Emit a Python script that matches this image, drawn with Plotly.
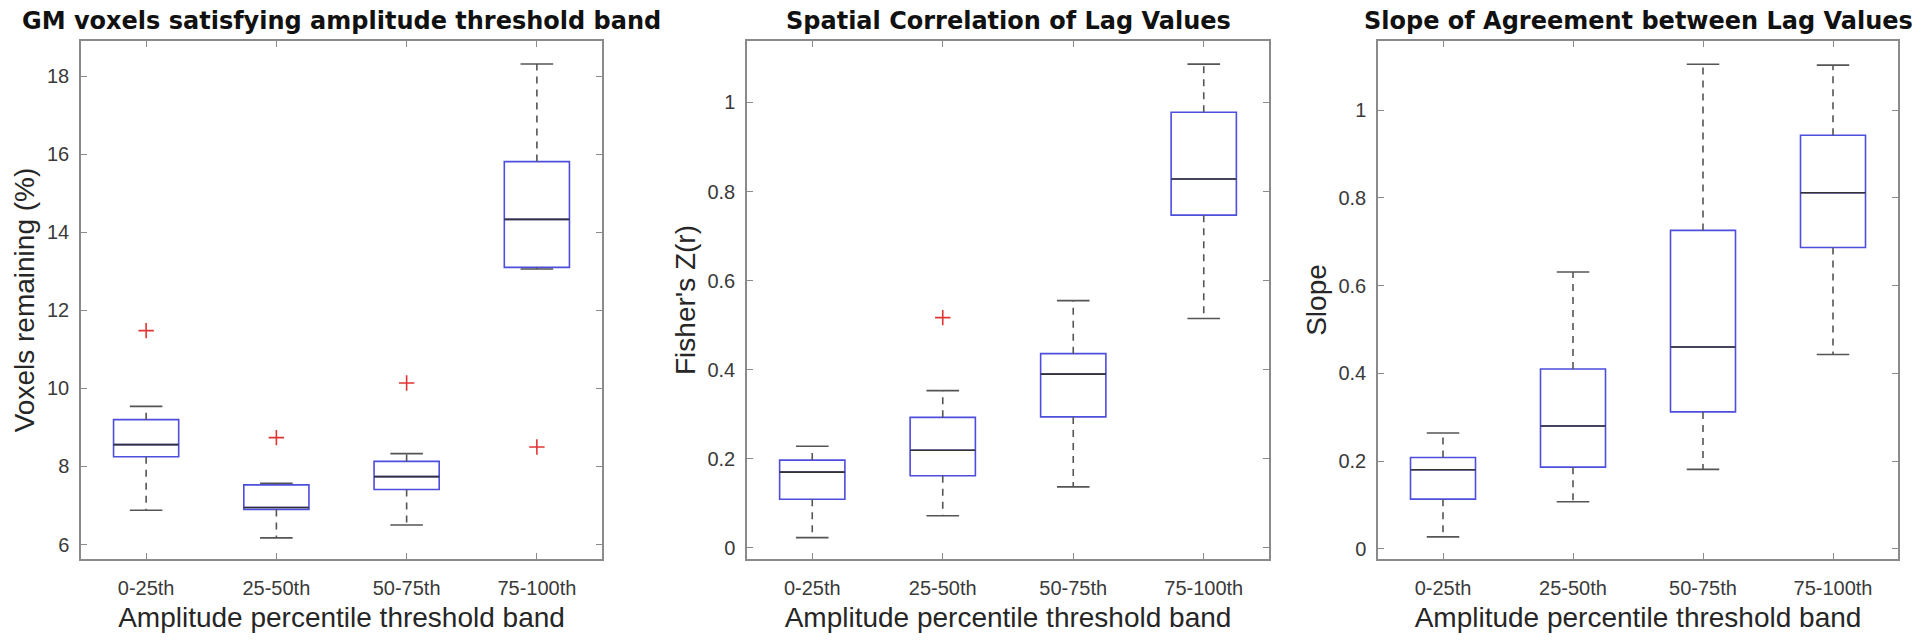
import plotly.graph_objects as go

categories = ["0-25th", "25-50th", "50-75th", "75-100th"]

# Panel 1: GM voxels satisfying amplitude threshold band (%)
p1_lower = [6.88, 6.17, 6.50, 13.06]
p1_q1 = [8.25, 6.90, 7.41, 13.10]
p1_median = [8.56, 6.95, 7.74, 14.33]
p1_q3 = [9.20, 7.53, 8.13, 15.81]
p1_upper = [9.54, 7.57, 8.33, 18.31]
p1_out_cat = [1, 2, 3, 4]
p1_out_val = [11.48, 8.74, 10.14, 8.50]

# Panel 2: Spatial correlation of lag values (Fisher's Z)
p2_lower = [0.023, 0.072, 0.137, 0.515]
p2_q1 = [0.109, 0.162, 0.294, 0.747]
p2_median = [0.170, 0.219, 0.390, 0.828]
p2_q3 = [0.197, 0.293, 0.436, 0.978]
p2_upper = [0.228, 0.353, 0.555, 1.086]
p2_out_cat = [2]
p2_out_val = [0.517]

# Panel 3: Slope of agreement between lag values
p3_lower = [0.027, 0.107, 0.181, 0.443]
p3_q1 = [0.113, 0.186, 0.312, 0.687]
p3_median = [0.180, 0.280, 0.460, 0.812]
p3_q3 = [0.208, 0.410, 0.726, 0.943]
p3_upper = [0.264, 0.631, 1.105, 1.103]
p3_out_cat = []
p3_out_val = []

titles = ["GM voxels satisfying amplitude threshold band",
          "Spatial Correlation of Lag Values",
          "Slope of Agreement between Lag Values"]
ylabels = ["Voxels remaining (%)", "Fisher's Z(r)", "Slope"]
xlabel = "Amplitude percentile threshold band"

y_ranges = [[5.63, 18.9], [-0.025, 1.138], [-0.0235, 1.158]]
y_ticks = [[6, 8, 10, 12, 14, 16, 18], [0, 0.2, 0.4, 0.6, 0.8, 1], [0, 0.2, 0.4, 0.6, 0.8, 1]]
y_ticktext = [["6", "8", "10", "12", "14", "16", "18"],
              ["0", "0.2", "0.4", "0.6", "0.8", "1"],
              ["0", "0.2", "0.4", "0.6", "0.8", "1"]]

panels = [
    (p1_lower, p1_q1, p1_median, p1_q3, p1_upper, p1_out_cat, p1_out_val),
    (p2_lower, p2_q1, p2_median, p2_q3, p2_upper, p2_out_cat, p2_out_val),
    (p3_lower, p3_q1, p3_median, p3_q3, p3_upper, p3_out_cat, p3_out_val),
]

W, H = 1920, 641
x_domains = [[81 / W, 602 / W], [747 / W, 1269 / W], [1378 / W, 1898 / W]]
y_domain = [1 - 559 / H, 1 - 41 / H]

BOX_BLUE = "#4d4dde"
MED_COL = "#333333"
WHISK_COL = "#555555"
OUT_COL = "#e03535"
AXIS_COL = "#8a8a8a"
TICK_COL = "#3a3a3a"

BOX_W = 0.5
CAP_W = 0.25

fig = go.Figure()
positions = list(range(1, len(categories) + 1))

for k, (lo, q1, med, q3, up, oc, ov) in enumerate(panels):
    xa = "x" if k == 0 else f"x{k + 1}"
    ya = "y" if k == 0 else f"y{k + 1}"
    # whiskers (dashed)
    wx, wy = [], []
    for i, p in enumerate(positions):
        wx += [p, p, None, p, p, None]
        wy += [q3[i], up[i], None, q1[i], lo[i], None]
    fig.add_trace(go.Scatter(x=wx, y=wy, mode="lines", xaxis=xa, yaxis=ya,
                             line=dict(color=WHISK_COL, width=1.6, dash="7px,6px"),
                             showlegend=False, hoverinfo="skip"))
    # caps
    cx, cy = [], []
    for i, p in enumerate(positions):
        cx += [p - CAP_W / 2, p + CAP_W / 2, None, p - CAP_W / 2, p + CAP_W / 2, None]
        cy += [up[i], up[i], None, lo[i], lo[i], None]
    fig.add_trace(go.Scatter(x=cx, y=cy, mode="lines", xaxis=xa, yaxis=ya,
                             line=dict(color=WHISK_COL, width=1.6),
                             showlegend=False, hoverinfo="skip"))
    # boxes
    fig.add_trace(go.Box(x=positions, q1=q1, median=med, q3=q3,
                         lowerfence=q1, upperfence=q3, width=BOX_W,
                         xaxis=xa, yaxis=ya, boxpoints=False, whiskerwidth=0,
                         line=dict(color=BOX_BLUE, width=1.6),
                         fillcolor="rgba(0,0,0,0)", showlegend=False))
    # medians
    mx, my = [], []
    for i, p in enumerate(positions):
        mx += [p - BOX_W / 2, p + BOX_W / 2, None]
        my += [med[i], med[i], None]
    fig.add_trace(go.Scatter(x=mx, y=my, mode="lines", xaxis=xa, yaxis=ya,
                             line=dict(color=MED_COL, width=1.6),
                             showlegend=False, hoverinfo="skip"))
    # outliers
    if oc:
        fig.add_trace(go.Scatter(x=oc, y=ov, mode="markers", xaxis=xa, yaxis=ya,
                                 marker=dict(symbol="cross-thin", size=11,
                                             line=dict(color=OUT_COL, width=1.6)),
                                 showlegend=False, hoverinfo="skip"))

layout = dict(
    width=W, height=H,
    margin=dict(l=0, r=0, t=0, b=0),
    paper_bgcolor="white", plot_bgcolor="white",
    showlegend=False,
    font=dict(family="Liberation Sans, Arial, sans-serif", color=TICK_COL),
)

annotations = []
for k in range(3):
    xk = "xaxis" if k == 0 else f"xaxis{k + 1}"
    yk = "yaxis" if k == 0 else f"yaxis{k + 1}"
    anchor_x = "y" if k == 0 else f"y{k + 1}"
    anchor_y = "x" if k == 0 else f"x{k + 1}"
    layout[xk] = dict(
        domain=x_domains[k], anchor=anchor_x, range=[0.5, 4.5],
        tickmode="array", tickvals=positions, ticktext=categories,
        showline=True, linecolor=AXIS_COL, linewidth=1.5, mirror="ticks",
        ticks="inside", ticklen=6, tickcolor=AXIS_COL, tickwidth=1.2,
        showgrid=False, zeroline=False,
        tickfont=dict(size=20, color=TICK_COL), ticklabelstandoff=10,
        title=dict(text=xlabel, font=dict(size=28, color="#262626"), standoff=10),
    )
    layout[yk] = dict(
        domain=y_domain, anchor=anchor_y, range=y_ranges[k],
        tickmode="array", tickvals=y_ticks[k], ticktext=y_ticktext[k],
        showline=True, linecolor=AXIS_COL, linewidth=1.5, mirror="ticks",
        ticks="inside", ticklen=6, tickcolor=AXIS_COL, tickwidth=1.2,
        showgrid=False, zeroline=False,
        tickfont=dict(size=20, color=TICK_COL), ticklabelstandoff=6,
        title=dict(text=ylabels[k], font=dict(size=28, color="#262626"), standoff=4),
    )
    annotations.append(dict(
        text=f"<b>{titles[k]}</b>", showarrow=False,
        xref=("x domain" if k == 0 else f"x{k + 1} domain"), x=0.5, xanchor="center",
        yref="paper", y=1 - 21 / H, yanchor="middle",
        font=dict(family="DejaVu Sans, sans-serif", size=24, color="#111111"),
    ))
layout["annotations"] = annotations

fig.update_layout(**layout)
fig.write_html("out.html")
